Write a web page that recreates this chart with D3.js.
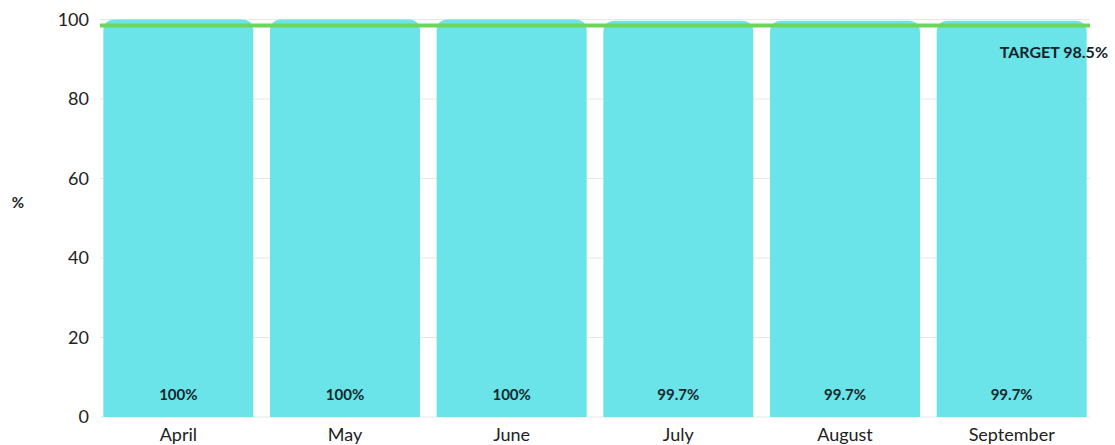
<!DOCTYPE html>
<html>
<head>
<meta charset="utf-8">
<script src="https://cdn.jsdelivr.net/npm/d3@7"></script>
<style>
  html, body { margin: 0; padding: 0; background: #fff; }
  svg { display: block; font-family: Lato, "Open Sans", sans-serif; }
</style>
</head>
<body>
<svg id="chart" width="1115" height="445"></svg>
<script>
// Monthly compliance (%) against target
const months = ["April", "May", "June", "July", "August", "September"];
const values = [100, 100, 100, 99.7, 99.7, 99.7];
const valueLabels = ["100%", "100%", "100%", "99.7%", "99.7%", "99.7%"];
const yTicks = [0, 20, 40, 60, 80, 100];
const target = 98.5;
const targetLabel = "TARGET 98.5%";

const svg = d3.select("#chart");
const plotLeft = 95, plotRight = 1095, plotTop = 19.5, plotBottom = 417;

const x = d3.scaleBand().domain(months).range([plotLeft, plotRight])
  .paddingInner(0.1).paddingOuter(0.05);
const y = d3.scaleLinear().domain([0, 100]).range([plotBottom, plotTop]);

// gridlines
svg.append("g").selectAll("line").data(yTicks).join("line")
  .attr("x1", 100).attr("x2", 1090)
  .attr("y1", d => y(d)).attr("y2", d => y(d))
  .attr("stroke", "#e6e6e6").attr("stroke-width", 1);

// y-axis tick labels
svg.append("g").selectAll("text").data(yTicks).join("text")
  .attr("x", 89).attr("y", d => y(d))
  .attr("dy", "0.35em")
  .attr("text-anchor", "end")
  .attr("font-size", 18).attr("fill", "#222")
  .text(d => d);

// y-axis title
svg.append("text").attr("x", 18).attr("y", 203)
  .attr("dy", "0.35em").attr("text-anchor", "middle")
  .attr("font-size", 15).attr("font-weight", "bold").attr("fill", "#222")
  .text("%");

// bars with rounded top corners
const r = 12;
function barPath(d, i) {
  const x0 = x(months[i]), w = x.bandwidth();
  const yt = y(d), yb = y(0);
  return `M${x0},${yb} L${x0},${yt + r} Q${x0},${yt} ${x0 + r},${yt}` +
         ` L${x0 + w - r},${yt} Q${x0 + w},${yt} ${x0 + w},${yt + r}` +
         ` L${x0 + w},${yb} Z`;
}
svg.append("g").selectAll("path").data(values).join("path")
  .attr("d", barPath)
  .attr("fill", "#6ae4e8");

// value labels inside bars
svg.append("g").selectAll("text").data(values).join("text")
  .attr("x", (d, i) => x(months[i]) + x.bandwidth() / 2)
  .attr("y", y(0) - 22)
  .attr("dy", "0.35em")
  .attr("text-anchor", "middle")
  .attr("font-size", 15).attr("font-weight", "bold").attr("fill", "#12292e")
  .text((d, i) => valueLabels[i]);

// month labels
svg.append("g").selectAll("text").data(months).join("text")
  .attr("x", d => x(d) + x.bandwidth() / 2)
  .attr("y", 435)
  .attr("dy", "0.35em")
  .attr("text-anchor", "middle")
  .attr("font-size", 18).attr("fill", "#222")
  .text(d => d);

// target line
svg.append("line")
  .attr("x1", 100).attr("x2", 1090)
  .attr("y1", y(target)).attr("y2", y(target))
  .attr("stroke", "#6bd65a").attr("stroke-width", 4);

svg.append("text")
  .attr("x", 1108).attr("y", 52)
  .attr("dy", "0.35em").attr("text-anchor", "end")
  .attr("font-size", 16).attr("font-weight", "bold").attr("fill", "#12232a")
  .text(targetLabel);
</script>
</body>
</html>
